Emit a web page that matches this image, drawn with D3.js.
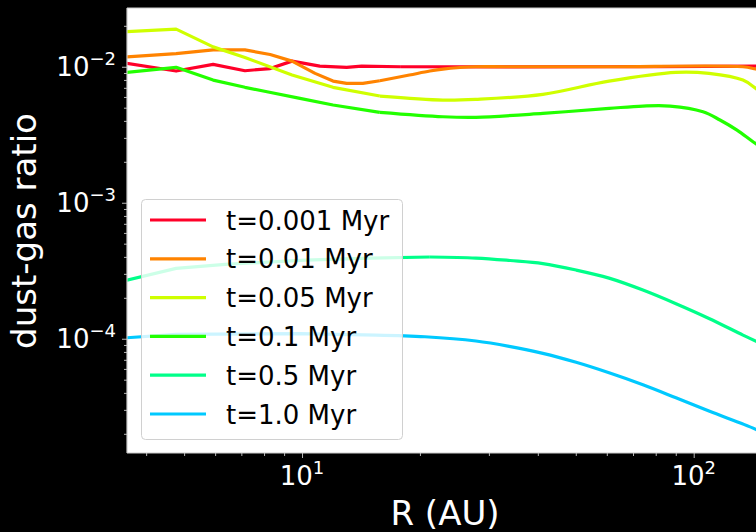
<!DOCTYPE html>
<html>
<head>
<meta charset="utf-8">
<script src="https://cdn.jsdelivr.net/npm/d3@7"></script>
<style>
html,body{margin:0;padding:0;background:#000;}
svg{display:block;}
text{font-family:"DejaVu Sans",sans-serif;}
</style>
</head>
<body>
<svg id="chart" width="756" height="532"></svg>
<script>
// ---- data ----
const seriesLabels = ["t=0.001 Myr","t=0.01 Myr","t=0.05 Myr","t=0.1 Myr","t=0.5 Myr","t=1.0 Myr"];
const seriesColors = ["#ff0029","#ff8300","#cfff00","#22ff00","#00ff89","#00c9ff"];

const r001 = [3.57,4.77,5.93,7.15,8.29,9.43,11.1,13.0,14.2,17.8,60.0,144,150];
const v001 = [0.0106,0.0093,0.0104,0.00935,0.0097,0.011,0.0101,0.0099,0.0101,0.0100,0.0100,0.0101,0.0101];

const r01 = [3.57,4.77,5.93,7.15,8.29,9.43,10.8,12.0,13.0,14.3,15.8,18.8,21.2,22.9,25.3,27.8,33.0,60.0,133.6,144,150];
const v01 = [0.0118,0.0125,0.0133,0.0133,0.0123,0.0110,0.00894,0.00785,0.00755,0.00755,0.00789,0.00869,0.0093,0.00962,0.00987,0.0100,0.0100,0.0100,0.0100,0.00962,0.00946];

const r05 = [3.57,4.77,5.93,7.15,9.43,12.0,15.8,22.9,27.8,41.2,60.8,90.1,109.4,133.6,144,150];
const v05 = [0.0181,0.0189,0.0140,0.0117,0.00869,0.00706,0.00609,0.00569,0.00576,0.00627,0.00785,0.0091,0.00894,0.00798,0.00694,0.0064];

const r1 = [3.57,4.77,5.93,7.15,8.14,9.88,12.0,15.8,22.9,27.8,41.2,60.8,74.2,87.0,105.6,116.7,129.0,141.7,150];
const v1 = [0.0091,0.0099,0.00798,0.00706,0.00655,0.00586,0.00523,0.00462,0.00429,0.00425,0.00454,0.00494,0.00514,0.00514,0.00467,0.00406,0.00342,0.00281,0.00252];

const r5 = [3.57,4.77,6.36,10.18,14.9,21.2,27.8,34.0,41.2,50.1,60.8,74.2,90.1,109.4,133.6,144,150];
const v5 = [0.000270,0.000329,0.000352,0.000379,0.000392,0.000399,0.000392,0.000376,0.000357,0.000320,0.000279,0.000228,0.000181,0.000141,0.0001064,0.0000961,0.0000907];

const r10 = [3.57,4.77,9.88,15.45,20.6,27.8,33.8,41.2,50.1,60.8,74.2,90.1,109.4,133.6,144,150];
const v10 = [0.0001017,0.0001077,0.0001092,0.0001064,0.0001034,0.0000962,0.0000879,0.0000781,0.0000671,0.0000562,0.0000459,0.0000368,0.0000294,0.0000236,0.0000216,0.0000204];

const seriesR = [r001,r01,r05,r1,r5,r10];
const seriesV = [v001,v01,v05,v1,v5,v10];

const xMajor = [10,100];
const xMajorLabels = [["10","1"],["10","2"]];
const yMajor = [1e-2,1e-3,1e-4];
const yMajorLabels = [["10","\u22122"],["10","\u22123"],["10","\u22124"]];

// ---- layout ----
const svg = d3.select("#chart");
const W = 756, H = 532;
const L = 127, T = 8, Rr = 763, B = 453;

const x = d3.scaleLog().domain([3.574, 150.3]).range([L, Rr]);
const y = d3.scaleLog().domain([0.02704, 1.445e-5]).range([T, B]);

svg.append("rect").attr("x",0).attr("y",0).attr("width",W).attr("height",H).attr("fill","#000");
svg.append("rect").attr("x",L).attr("y",T).attr("width",Rr-L).attr("height",B-T).attr("fill","#fff");

svg.append("clipPath").attr("id","clip").append("rect")
  .attr("x",L).attr("y",T).attr("width",Rr-L).attr("height",B-T);

// minor ticks
const xMinor = [];
[1,10,100].forEach(d=>{for(let k=2;k<=9;k++){const v=d*k; if(v>=3.574&&v<=150.3) xMinor.push(v);}});
const yMinor = [];
[1e-5,1e-4,1e-3,1e-2].forEach(d=>{for(let k=2;k<=9;k++){const v=d*k; if(v>=1.445e-5&&v<=0.02704) yMinor.push(v);}});

const tickCol = "#b8b8b8";
const xAxis = d3.axisBottom(x).tickValues(xMajor).tickSize(5).tickFormat("");
const xAxisMinor = d3.axisBottom(x).tickValues(xMinor).tickSize(3).tickFormat("");
const yAxis = d3.axisLeft(y).tickValues(yMajor).tickSize(5).tickFormat("");
const yAxisMinor = d3.axisLeft(y).tickValues(yMinor).tickSize(3).tickFormat("");

[ [xAxis,`translate(0,${B})`],[xAxisMinor,`translate(0,${B})`],[yAxis,`translate(${L},0)`],[yAxisMinor,`translate(${L},0)`] ].forEach(([ax,tr])=>{
  const g = svg.append("g").attr("transform",tr).call(ax);
  g.select(".domain").remove();
  g.selectAll("line").attr("stroke",tickCol).attr("stroke-width",1);
});

// series lines
const plotG = svg.append("g").attr("clip-path","url(#clip)");
const linLine = d3.line().x(d=>x(d[0])).y(d=>y(d[1])).curve(d3.curveLinear);
const smoothLine = d3.line().x(d=>x(d[0])).y(d=>y(d[1])).curve(d3.curveCatmullRom.alpha(0.5));
seriesR.forEach((rs,i)=>{
  const pts = rs.map((r,j)=>[r, seriesV[i][j]]);
  let split = pts.findIndex(p=>p[0]>=15);
  if(split<0) split = pts.length-1;
  const seg1 = pts.slice(0, split+1);
  const seg2 = pts.slice(split);
  plotG.append("path").attr("d",linLine(seg1)).attr("fill","none")
    .attr("stroke",seriesColors[i]).attr("stroke-width",3.2).attr("stroke-linejoin","round").attr("stroke-linecap","butt");
  plotG.append("path").attr("d",smoothLine(seg2)).attr("fill","none")
    .attr("stroke",seriesColors[i]).attr("stroke-width",3.2).attr("stroke-linejoin","round").attr("stroke-linecap","butt");
});

// spines
const spineCol = "#cccccc";
svg.append("line").attr("x1",L).attr("x2",W).attr("y1",T).attr("y2",T).attr("stroke",spineCol).attr("stroke-width",1.2);
svg.append("line").attr("x1",L).attr("x2",W).attr("y1",B).attr("y2",B).attr("stroke",spineCol).attr("stroke-width",1.2);
svg.append("line").attr("x1",L).attr("x2",L).attr("y1",T).attr("y2",B).attr("stroke",spineCol).attr("stroke-width",1.2);

// tick labels
xMajor.forEach((v,i)=>{
  const t = svg.append("text").attr("x",x(v)).attr("y",485).attr("text-anchor","middle")
    .attr("fill","#fff").attr("font-size",26);
  t.append("tspan").text(xMajorLabels[i][0]);
  t.append("tspan").attr("dy",-11).attr("font-size",18).text(xMajorLabels[i][1]);
});
yMajor.forEach((v,i)=>{
  const t = svg.append("text").attr("x",116).attr("y",y(v)+9.5).attr("text-anchor","end")
    .attr("fill","#fff").attr("font-size",26);
  t.append("tspan").text(yMajorLabels[i][0]);
  t.append("tspan").attr("dy",-11).attr("font-size",18).text(yMajorLabels[i][1]);
});

// axis labels
svg.append("text").attr("x",445).attr("y",525).attr("text-anchor","middle")
  .attr("fill","#fff").attr("font-size",34).text("R (AU)");
svg.append("text").attr("transform","translate(36,231) rotate(-90)").attr("text-anchor","middle")
  .attr("fill","#fff").attr("font-size",34).text("dust-gas ratio");

// legend
const lg = svg.append("g");
lg.append("rect").attr("x",141.5).attr("y",199.5).attr("width",261).attr("height",240).attr("rx",4)
  .attr("fill","#fff").attr("fill-opacity",0.8).attr("stroke","#d0d0d0").attr("stroke-width",1);
seriesLabels.forEach((lab,i)=>{
  const yy = 220 + 38.8*i;
  lg.append("line").attr("x1",150).attr("x2",206).attr("y1",yy).attr("y2",yy)
    .attr("stroke",seriesColors[i]).attr("stroke-width",3.2);
  lg.append("text").attr("x",226).attr("y",yy+9.5).attr("fill","#000").attr("font-size",26).text(lab);
});
</script>
</body>
</html>
